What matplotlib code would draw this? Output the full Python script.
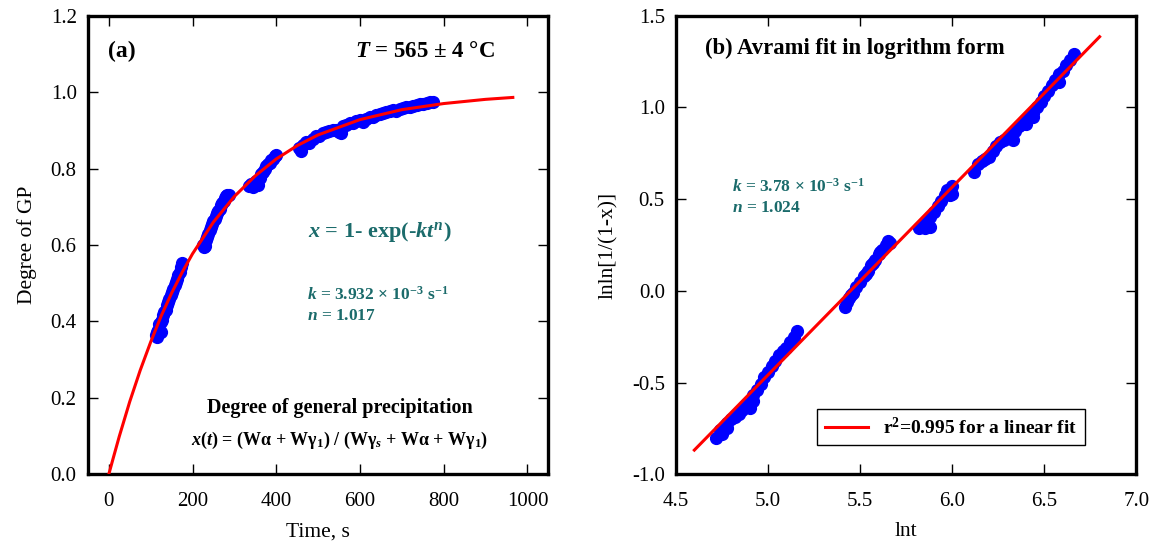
import matplotlib.pyplot as plt

plt.rcParams["font.family"] = "serif"
plt.rcParams["font.serif"] = ["Liberation Serif", "DejaVu Serif"]
plt.rcParams["axes.unicode_minus"] = False
plt.rcParams["mathtext.fontset"] = "custom"
plt.rcParams["mathtext.rm"] = "Liberation Serif:bold"
plt.rcParams["mathtext.it"] = "Liberation Serif:bold:italic"
plt.rcParams["mathtext.bf"] = "Liberation Serif:bold"

# (a) degree of general precipitation vs time, measured points
t_meas = [
    112, 115, 116, 118, 121, 124, 125, 127, 130, 133, 136, 139, 142, 145, 148,
    151, 154, 157, 160, 163, 166, 169, 172, 175,
    226, 227, 229, 232, 235, 238, 241, 244, 247, 250, 253, 256, 259, 262, 265,
    268, 271, 274, 277, 280, 283, 286,
    336, 340, 344, 348, 352, 356, 360, 364, 368, 372, 376, 380, 384, 388, 392,
    396, 400,
    455, 460, 463, 471, 479, 487, 495, 503, 511, 519, 527, 535, 543, 551, 555,
    559, 567, 575, 583, 591, 599, 607, 615, 623, 631, 639, 647, 655, 663, 671,
    679, 687, 695, 703, 711, 719, 727, 735, 743, 751, 759, 767, 775,
]
gp_meas = [
    0.365, 0.372, 0.360, 0.378, 0.392, 0.398, 0.372, 0.404, 0.418, 0.425, 0.430,
    0.444, 0.452, 0.458, 0.470, 0.478, 0.484, 0.496, 0.503, 0.510, 0.522, 0.530,
    0.542, 0.553,
    0.600, 0.594, 0.598, 0.612, 0.622, 0.630, 0.640, 0.648, 0.655, 0.662, 0.668,
    0.676, 0.684, 0.688, 0.695, 0.704, 0.710, 0.716, 0.722, 0.727, 0.730, 0.732,
    0.755, 0.760, 0.752, 0.762, 0.768, 0.758, 0.775, 0.785, 0.792, 0.800, 0.806,
    0.812, 0.815, 0.822, 0.826, 0.832, 0.835,
    0.855, 0.845, 0.862, 0.870, 0.868, 0.878, 0.884, 0.886, 0.892, 0.895, 0.898,
    0.902, 0.900, 0.895, 0.893, 0.912, 0.915, 0.918, 0.920, 0.924, 0.926, 0.922,
    0.930, 0.935, 0.936, 0.940, 0.942, 0.944, 0.948, 0.950, 0.952, 0.950, 0.956,
    0.958, 0.962, 0.960, 0.963, 0.966, 0.968, 0.970, 0.972, 0.973, 0.975,
]

# Avrami fit curve
t_fit = [0, 10, 25, 50, 75, 100, 125, 150, 175, 200, 250, 300, 350, 400, 450,
         500, 600, 700, 800, 900, 965]
gp_fit = [0.0, 0.040, 0.099, 0.190, 0.272, 0.346, 0.414, 0.474, 0.528, 0.577,
          0.660, 0.727, 0.781, 0.825, 0.860, 0.888, 0.928, 0.954, 0.970, 0.981,
          0.986]

# (b) lnln[1/(1-x)] vs ln t
lnt_meas = [
    4.72, 4.74, 4.75, 4.76, 4.78, 4.78, 4.80, 4.82, 4.84, 4.86, 4.88, 4.90,
    4.90, 4.92, 4.92, 4.94, 4.96, 4.98, 5.00, 5.02, 5.04, 5.06, 5.08, 5.10,
    5.12, 5.14, 5.16,
    5.42, 5.43, 5.44, 5.45, 5.46, 5.48, 5.50, 5.52, 5.53, 5.54, 5.56, 5.57,
    5.58, 5.60, 5.61, 5.62, 5.64, 5.65, 5.66,
    5.82, 5.84, 5.85, 5.86, 5.88, 5.88, 5.90, 5.92, 5.94, 5.96, 5.97, 5.98,
    5.99, 6.00, 6.00,
    6.12, 6.14, 6.16, 6.18, 6.20, 6.22, 6.24, 6.26, 6.28, 6.30, 6.32, 6.33,
    6.34, 6.36, 6.38, 6.40, 6.40, 6.42, 6.44, 6.44, 6.46, 6.48, 6.50, 6.52,
    6.54, 6.56, 6.58, 6.58, 6.60, 6.62, 6.64, 6.66,
]
lnln_meas = [
    -0.80, -0.76, -0.78, -0.74, -0.72, -0.75, -0.70, -0.69, -0.67, -0.65,
    -0.62, -0.61, -0.64, -0.57, -0.60, -0.54, -0.51, -0.47, -0.44, -0.41,
    -0.38, -0.35, -0.33, -0.31, -0.28, -0.25, -0.22,
    -0.09, -0.06, -0.04, -0.02, -0.01, 0.02, 0.05, 0.08, 0.09, 0.11, 0.14,
    0.15, 0.17, 0.20, 0.21, 0.22, 0.25, 0.27, 0.26,
    0.34, 0.36, 0.34, 0.38, 0.40, 0.35, 0.43, 0.46, 0.49, 0.52, 0.55, 0.54,
    0.52, 0.57, 0.53,
    0.65, 0.69, 0.71, 0.72, 0.73, 0.76, 0.79, 0.81, 0.82, 0.84, 0.84, 0.82,
    0.87, 0.90, 0.91, 0.93, 0.91, 0.95, 0.97, 0.95, 1.00, 1.03, 1.06, 1.09,
    1.12, 1.15, 1.18, 1.14, 1.20, 1.23, 1.26, 1.29,
]

# linear fit line end points in panel (b)
lnt_fit = [4.6, 6.8]
lnln_fit = [-0.868, 1.385]

teal = "#1b6b6b"
tick_size = 15

fig = plt.figure(figsize=(11.56, 5.43), dpi=100)
ax1 = fig.add_axes([0.076, 0.1265, 0.3984, 0.8447])
ax2 = fig.add_axes([0.5847, 0.1265, 0.3984, 0.8447])

for ax in (ax1, ax2):
    for spine in ax.spines.values():
        spine.set_linewidth(2.4)
    ax.tick_params(direction="in", top=True, right=True, length=7, width=1,
                   labelsize=tick_size, pad=8)
    ax.tick_params(axis="x", pad=13)

######################
# panel (a)
######################
ax1.plot(t_meas, gp_meas, "o", color="blue", markersize=8.5, zorder=2)
ax1.plot(t_fit, gp_fit, "-", color="red", lw=2.2, zorder=3)
ax1.set_xlim(-50, 1050)
ax1.set_ylim(0, 1.2)
ax1.set_xticks(range(0, 1001, 200))
ax1.set_yticks([0.0, 0.2, 0.4, 0.6, 0.8, 1.0, 1.2])
ax1.yaxis.set_major_formatter("{x:.1f}")
ax1.set_xlabel("Time, s", fontsize=15.5, labelpad=8)
ax1.set_ylabel("Degree of GP", fontsize=15.5, labelpad=10)

ax1.text(0.043, 0.921, "(a)", transform=ax1.transAxes, fontsize=17,
         fontweight="bold", va="center")
ax1.text(0.883, 0.921, r"$T$ = 565 ± 4 °C", transform=ax1.transAxes,
         fontsize=16.5, fontweight="bold", va="center", ha="right")
ax1.text(0.478, 0.528, r"$x$ = 1- exp(-$kt^{n}$)", transform=ax1.transAxes,
         fontsize=16, fontweight="bold", va="center", color=teal)
ax1.text(0.475, 0.392, r"$k$ = 3.932 × 10$^{-3}$ s$^{-1}$",
         transform=ax1.transAxes, fontsize=12.5, fontweight="bold",
         va="center", color=teal)
ax1.text(0.475, 0.345, r"$n$ = 1.017", transform=ax1.transAxes, fontsize=12.5,
         fontweight="bold", va="center", color=teal)
ax1.text(0.547, 0.144, "Degree of general precipitation",
         transform=ax1.transAxes, fontsize=14.5, fontweight="bold",
         va="center", ha="center")
ax1.text(0.546, 0.074,
         r"$x(t)$ = (Wα + Wγ$_1$) / (Wγ$_s$ + Wα + Wγ$_1$)",
         transform=ax1.transAxes, fontsize=13, fontweight="bold",
         va="center", ha="center")

######################
# panel (b)
######################
ax2.plot(lnt_meas, lnln_meas, "o", color="blue", markersize=8.5, zorder=2)
ax2.plot(lnt_fit, lnln_fit, "-", color="red", lw=2.2, zorder=3,
         label=r"r$^2$=0.995 for a linear fit")
ax2.set_xlim(4.5, 7.0)
ax2.set_ylim(-1.0, 1.5)
ax2.set_xticks([4.5, 5.0, 5.5, 6.0, 6.5, 7.0])
ax2.set_yticks([-1.0, -0.5, 0.0, 0.5, 1.0, 1.5])
ax2.xaxis.set_major_formatter("{x:.1f}")
ax2.yaxis.set_major_formatter("{x:.1f}")
ax2.set_xlabel("lnt", fontsize=15.5, labelpad=8)
ax2.set_ylabel("lnln[1/(1-x)]", fontsize=15.5, labelpad=10)

ax2.text(0.064, 0.928, "(b) Avrami fit in logrithm form",
         transform=ax2.transAxes, fontsize=16.3, fontweight="bold", va="center")
ax2.text(0.121, 0.626, r"$k$ = 3.78 × 10$^{-3}$ s$^{-1}$",
         transform=ax2.transAxes, fontsize=12.5, fontweight="bold",
         va="center", color=teal)
ax2.text(0.121, 0.580, r"$n$ = 1.024", transform=ax2.transAxes, fontsize=12.5,
         fontweight="bold", va="center", color=teal)

leg = ax2.legend(loc="lower right", bbox_to_anchor=(0.889, 0.063),
                 borderaxespad=0, fancybox=False, edgecolor="black",
                 framealpha=1, handlelength=2.2,
                 prop={"size": 14, "weight": "bold"})
leg.get_frame().set_linewidth(1.0)

fig.savefig("out.png", dpi=100)
